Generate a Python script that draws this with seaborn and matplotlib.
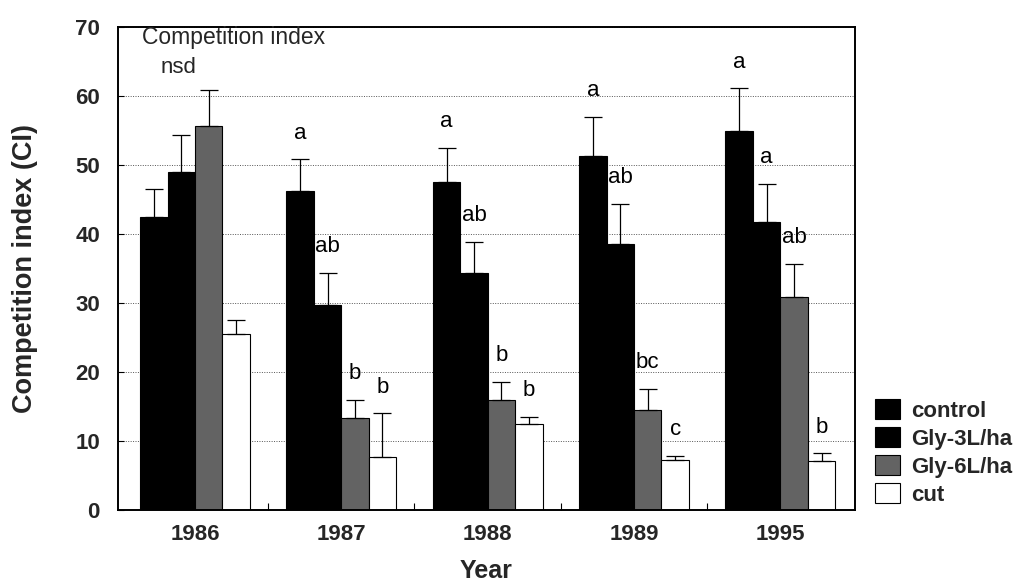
import numpy as np
import pandas as pd
import matplotlib
matplotlib.use("Agg")
import matplotlib.pyplot as plt
import matplotlib.patches as mpatches
import seaborn as sns

years = ["1986", "1987", "1988", "1989", "1995"]
treatments = ["control", "Gly-3L/ha", "Gly-6L/ha", "cut"]
ci_control = [42.4, 46.2, 47.6, 51.3, 55.0]
ci_gly3 = [49.0, 29.7, 34.3, 38.6, 41.8]
ci_gly6 = [55.6, 13.4, 15.9, 14.5, 30.9]
ci_cut = [25.5, 7.7, 12.5, 7.3, 7.1]
se_control = [4.1, 4.6, 4.9, 5.7, 6.1]
se_gly3 = [5.3, 4.6, 4.6, 5.7, 5.5]
se_gly6 = [5.2, 2.6, 2.6, 3.0, 4.7]
se_cut = [2.0, 6.3, 1.0, 0.5, 1.1]
letters_control = ["", "a", "a", "a", "a"]
letters_gly3 = ["", "ab", "ab", "ab", "a"]
letters_gly6 = ["", "b", "b", "bc", "ab"]
letters_cut = ["", "b", "b", "c", "b"]
yticks = [0, 10, 20, 30, 40, 50, 60, 70]

values = [ci_control, ci_gly3, ci_gly6, ci_cut]
errors = [se_control, se_gly3, se_gly6, se_cut]
letters = [letters_control, letters_gly3, letters_gly6, letters_cut]

rows = []
for t, vals in zip(treatments, values):
    for y, v in zip(years, vals):
        rows.append({"Year": y, "Treatment": t, "CI": v})
df = pd.DataFrame(rows)

sns.set_theme(style="white")
plt.rcParams["font.family"] = ["Liberation Sans", "DejaVu Sans"]

colors = ["#000000", "#000000", "#636363", "#ffffff"]
palette = dict(zip(treatments, colors))

fig = plt.figure(figsize=(10.27, 5.81), dpi=100)
ax = fig.add_axes([0.1149, 0.1222, 0.8325 - 0.1149, 0.9535 - 0.1222])

sns.barplot(data=df, x="Year", y="CI", hue="Treatment", order=years,
            hue_order=treatments, palette=palette, saturation=1,
            width=0.75, errorbar=None, edgecolor="black", linewidth=0.8,
            legend=False, ax=ax)

for cont, errs, labs in zip(ax.containers, errors, letters):
    xs = [p.get_x() + p.get_width() / 2 for p in cont.patches]
    hs = [p.get_height() for p in cont.patches]
    ax.errorbar(xs, hs, yerr=[np.zeros(len(errs)), errs], fmt="none",
                ecolor="black", elinewidth=0.9, capsize=6.5, capthick=0.9,
                zorder=3)
    for x, h, e, lab in zip(xs, hs, errs, labs):
        if lab:
            ax.annotate(lab, (x, h + e), xytext=(0, 19),
                        textcoords="offset points", ha="center", va="center",
                        fontsize=16, color="black")

# nsd label for 1986
p86 = ax.containers[1].patches[0]
ax.text(p86.get_x() + p86.get_width() / 2 - 0.02, 64.2, "nsd", ha="center",
        va="center", fontsize=16)
ax.text(0.032, 68.5, "Competition index", transform=ax.get_yaxis_transform(),
        ha="left", va="center", fontsize=16.5)

ax.set_ylim(0, 70)
ax.set_xlim(-0.526, 4.51)
ax.set_yticks(yticks)
ax.set_yticklabels([str(t) for t in yticks], fontsize=16, fontweight="bold")
ax.set_xticks(range(len(years)))
ax.set_xticklabels(years, fontsize=16, fontweight="bold")
ax.set_xticks(np.arange(0.5, len(years) - 0.5, 1.0), minor=True)
ax.tick_params(axis="x", which="major", length=0, pad=10)
ax.tick_params(axis="x", which="minor", direction="in", length=5,
               width=0.8, color="black", bottom=True)
ax.tick_params(axis="y", which="major", direction="in", length=4,
               width=0.8, color="black", left=True, pad=13)

ax.set_axisbelow(True)
ax.yaxis.grid(True, linestyle=(0, (1, 1.5)), color="#555555", linewidth=0.7)
ax.xaxis.grid(False)

for s in ax.spines.values():
    s.set_color("black")
    s.set_linewidth(1.4)

ax.set_xlabel("Year", fontsize=18, fontweight="bold", labelpad=10)
ax.set_ylabel("Competition index (CI)", fontsize=19.5, fontweight="bold",
              labelpad=27)

handles = [mpatches.Patch(facecolor=palette[t], edgecolor="black",
                          linewidth=0.8, label=t) for t in treatments]
leg = fig.legend(handles=handles, loc="upper left",
                 bbox_to_anchor=(0.837, 0.34), frameon=False,
                 prop={"size": 16, "weight": "bold"}, handlelength=1.1,
                 handleheight=1.0, handletextpad=0.5, labelspacing=0.25,
                 borderpad=0.2)

fig.savefig("out.png", dpi=100)
